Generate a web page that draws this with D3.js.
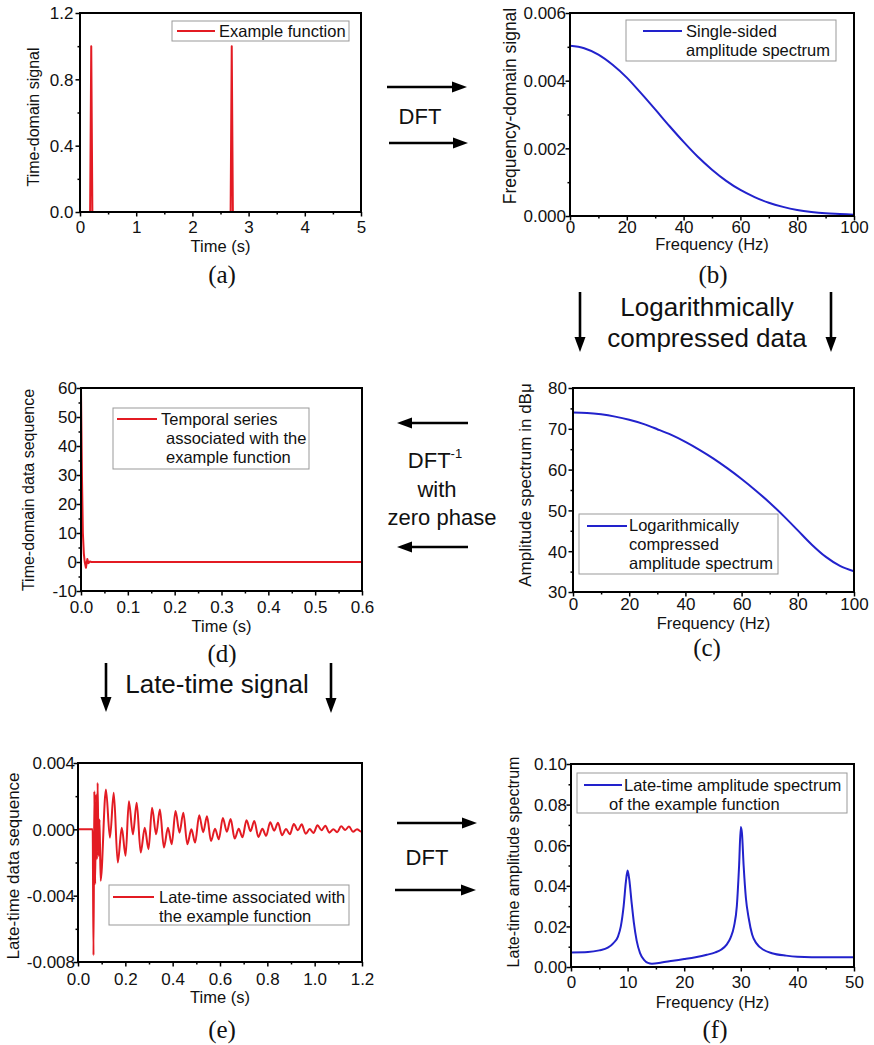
<!DOCTYPE html>
<html>
<head>
<meta charset="utf-8">
<script src="https://cdn.jsdelivr.net/npm/d3@7"></script>
<style>
body { margin: 0; background: #fff; }
svg { font-family: "Liberation Sans", Arial, sans-serif; }
</style>
</head>
<body>
<script>

// (a) example function
var aTime   = [0, 0.18, 0.2, 0.22, 2.68, 2.7, 2.72, 5];
var aSignal = [0, 0, 1.0, 0, 0, 1.0, 0, 0];
var aXTicks = [0, 1, 2, 3, 4, 5],          aXMinor = [0.5, 1.5, 2.5, 3.5, 4.5];
var aYTicks = [0, 0.4, 0.8, 1.2],          aYMinor = [0.2, 0.6, 1.0];

// (b) single-sided amplitude spectrum
var bFreq = [0, 5, 10, 15, 20, 25, 30, 35, 40, 45, 50, 55, 60, 65, 70, 75, 80, 85, 90, 95, 100];
var bAmp  = [0.00503, 0.00496, 0.00477, 0.00447, 0.00409, 0.00363, 0.00315, 0.00266, 0.00219,
             0.00175, 0.00137, 0.00104, 0.00077, 0.00056, 0.00039, 0.00027, 0.00018, 0.00012,
             0.00008, 0.00006, 0.00004];
var bXTicks = [0, 20, 40, 60, 80, 100],    bXMinor = [10, 30, 50, 70, 90];
var bYTicks = [0, 0.002, 0.004, 0.006],    bYMinor = [0.001, 0.003, 0.005];

// (c) logarithmically compressed spectrum (dB micro)
var cFreq  = [0, 5, 10, 15, 20, 25, 30, 35, 40, 45, 50, 55, 60, 65, 70, 75, 80, 85, 90, 95, 100];
var cLevel = [74.0, 73.9, 73.55, 72.98, 72.2, 71.2, 69.9, 68.5, 66.8, 64.85, 62.7, 60.3, 57.7,
              54.9, 51.9, 48.6, 45.1, 41.6, 38.6, 36.4, 35.1];
var cYTicks = [30, 40, 50, 60, 70, 80],    cYMinor = [35, 45, 55, 65, 75];

// (d) temporal series
var dTime = [0, 0.002, 0.004, 0.006, 0.008, 0.0105, 0.0135, 0.016, 0.019, 0.022, 0.6];
var dSeq  = [59.5, 30, 10, 3, 0, -2, 1, -0.4, 0.2, 0, 0];
var dXTicks = [0, 0.1, 0.2, 0.3, 0.4, 0.5, 0.6], dXMinor = [0.05, 0.15, 0.25, 0.35, 0.45, 0.55];
var dYTicks = [-10, 0, 10, 20, 30, 40, 50, 60],  dYMinor = [-5, 5, 15, 25, 35, 45, 55];

// (e) late-time signal (turning points)
var eTime = [0, 0.062, 0.0655, 0.069, 0.0725, 0.0765, 0.080, 0.083, 0.087, 0.091, 0.0955,
             0.118, 0.135, 0.151, 0.168, 0.185, 0.201,
             0.215, 0.232, 0.248, 0.265, 0.282, 0.298,
             0.313, 0.330, 0.346, 0.363, 0.380, 0.396,
             0.412, 0.429, 0.445, 0.462, 0.479, 0.495,
             0.512, 0.529, 0.545, 0.562, 0.579, 0.595,
             0.612, 0.629, 0.645, 0.662, 0.679, 0.695,
             0.712, 0.729, 0.745, 0.762, 0.779, 0.795,
             0.812, 0.829, 0.845, 0.862, 0.879, 0.895,
             0.912, 0.929, 0.945, 0.962, 0.979, 0.995,
             1.012, 1.029, 1.045, 1.062, 1.079, 1.095,
             1.112, 1.129, 1.145, 1.162, 1.179, 1.195, 1.2];
var eSeq  = [0, 0, -0.0076, 0.0023, -0.0033, 0.0021, -0.0018, 0.0028, -0.0016, 0.0006, -0.0031,
             0.0024, -0.0005, 0.0022, -0.0020, 0.0001, -0.0016,
             0.0017, -0.0003, 0.0016, -0.0014, 0.0001, -0.0012,
             0.0013, -0.0003, 0.0012, -0.0011, 0.0001, -0.0009,
             0.0011, -0.0002, 0.0010, -0.0009, 0.0000, -0.0008,
             0.00085, -0.00017, 0.00079, -0.00071, 0.00004, -0.0006,
             0.00068, -0.00014, 0.00063, -0.00056, 0.00003, -0.00048,
             0.00055, -0.00011, 0.00051, -0.00046, 0.00003, -0.00039,
             0.00042, -0.00008, 0.00039, -0.00035, 0.00002, -0.0003,
             0.00032, -0.00006, 0.0003, -0.00027, 0.00002, -0.00022,
             0.00024, -0.00005, 0.00022, -0.0002, 0.00001, -0.00017,
             0.00018, -0.00004, 0.00017, -0.00015, 0.00001, -0.00013, -0.0001];
var eXTicks = [0, 0.2, 0.4, 0.6, 0.8, 1.0, 1.2], eXMinor = [0.1, 0.3, 0.5, 0.7, 0.9, 1.1];
var eYTicks = [-0.008, -0.004, 0, 0.004],       eYMinor = [-0.006, -0.002, 0.002];

// (f) late-time amplitude spectrum
var fFreq = [0, 3, 5, 6.5, 7.5, 8.3, 8.8, 9.3, 9.7, 10, 10.3, 10.7, 11.1, 11.6, 12.2, 12.9, 13.6,
             14.3, 16, 18, 20, 22, 24, 25.5, 26.5, 27.5, 28.2, 28.8, 29.3, 29.7, 30, 30.2, 30.5,
             30.9, 31.4, 32, 32.8, 34, 35.5, 38, 40, 45, 50];
var fAmp  = [0.0072, 0.0074, 0.0082, 0.0095, 0.0118, 0.015, 0.02, 0.03, 0.042, 0.0475, 0.043,
             0.032, 0.022, 0.013, 0.0068, 0.0035, 0.002, 0.0016, 0.0022, 0.0031, 0.0039, 0.0048,
             0.006, 0.0072, 0.0085, 0.011, 0.0145, 0.02, 0.03, 0.05, 0.069, 0.066, 0.05, 0.034,
             0.024, 0.016, 0.0115, 0.0085, 0.0068, 0.0056, 0.0051, 0.0048, 0.0048];
var fXTicks = [0, 10, 20, 30, 40, 50],             fXMinor = [5, 15, 25, 35, 45];
var fYTicks = [0, 0.02, 0.04, 0.06, 0.08, 0.10],   fYMinor = [0.01, 0.03, 0.05, 0.07, 0.09];

var RED = "#e31b23", BLUE = "#2222cc";
var TICK_FONT = "17px", LEGEND_FONT = "16.5px";

var svg = d3.select("body").append("svg")
    .attr("width", 874)
    .attr("height", 1045);

function fmt(spec) {
    var f = d3.format(spec);
    return function(d) { return f(d).replace("\u2212", "-"); };
}

var clipId = 0;

function drawPanel(p) {
    var x = d3.scaleLinear().domain(p.xDomain).range([p.left, p.right]);
    var y = d3.scaleLinear().domain(p.yDomain).range([p.bottom, p.top]);
    var g = svg.append("g");

    // minor ticks (outward)
    g.append("g").attr("transform", "translate(0," + p.bottom + ")")
        .call(d3.axisBottom(x).tickValues(p.xMinor).tickSize(2.5).tickFormat(""));
    g.append("g").attr("transform", "translate(" + p.left + ",0)")
        .call(d3.axisLeft(y).tickValues(p.yMinor).tickSize(2.5).tickFormat(""));

    // major ticks
    var xa = g.append("g").attr("transform", "translate(0," + p.bottom + ")")
        .call(d3.axisBottom(x).tickValues(p.xTicks).tickSize(4.5).tickFormat(p.xFmt));
    xa.selectAll("text").attr("y", p.xLabelY).attr("dy", 0)
        .style("font-size", TICK_FONT).attr("fill", "#111");
    var ya = g.append("g").attr("transform", "translate(" + p.left + ",0)")
        .call(d3.axisLeft(y).tickValues(p.yTicks).tickSize(4.5).tickFormat(p.yFmt));
    ya.selectAll("text").attr("x", -p.yLabelGap).attr("dy", "0.35em")
        .style("font-size", TICK_FONT).attr("fill", "#111");

    g.selectAll(".domain").remove();
    g.selectAll(".tick line").attr("stroke", "#000").attr("stroke-width", 1.5);

    // curve
    clipId += 1;
    svg.append("clipPath").attr("id", "clip" + clipId)
        .append("rect")
        .attr("x", p.left).attr("y", p.top - 1)
        .attr("width", p.right - p.left).attr("height", p.bottom - p.top + 2);

    var line = d3.line()
        .x(function(d) { return x(d[0]); })
        .y(function(d) { return y(d[1]); })
        .curve(p.curve || d3.curveLinear);

    g.append("path")
        .datum(d3.zip(p.xs, p.ys))
        .attr("clip-path", "url(#clip" + clipId + ")")
        .attr("fill", "none")
        .attr("stroke", p.color)
        .attr("stroke-width", 2)
        .attr("stroke-linejoin", "round")
        .attr("d", line);

    // frame
    g.append("rect")
        .attr("x", p.left).attr("y", p.top)
        .attr("width", p.right - p.left).attr("height", p.bottom - p.top)
        .attr("fill", "none").attr("stroke", "#000").attr("stroke-width", 2);

    // legend
    var lg = p.legend;
    g.append("rect")
        .attr("x", lg.x).attr("y", lg.y).attr("width", lg.w).attr("height", lg.h)
        .attr("fill", "#fff").attr("stroke", "#999").attr("stroke-width", 1);
    g.append("line")
        .attr("x1", lg.x1).attr("x2", lg.x2).attr("y1", lg.ly).attr("y2", lg.ly)
        .attr("stroke", p.color).attr("stroke-width", 2);
    lg.lines.forEach(function(t) {
        g.append("text").attr("x", t[1]).attr("y", t[2])
            .style("font-size", LEGEND_FONT).attr("fill", "#111").text(t[0]);
    });

    // axis titles
    g.append("text")
        .attr("x", (p.left + p.right) / 2).attr("y", p.xTitleY)
        .attr("text-anchor", "middle").style("font-size", "16.5px").attr("fill", "#111")
        .text(p.xTitle);
    g.append("text")
        .attr("transform", "translate(" + p.yTitleX + "," + p.yTitleC + ") rotate(-90)")
        .attr("dy", "0.35em")
        .attr("text-anchor", "middle").style("font-size", p.yTitleSize + "px").attr("fill", "#111")
        .text(p.yTitle);

    // panel label
    g.append("text")
        .attr("x", p.label[1]).attr("y", p.label[2])
        .attr("text-anchor", "middle")
        .style("font-family", "'Liberation Serif', 'Times New Roman', serif")
        .style("font-size", "25px").attr("fill", "#111")
        .text(p.label[0]);
}

function arrow(x1, y1, x2, y2) {
    var dx = x2 - x1, dy = y2 - y1;
    var len = Math.sqrt(dx * dx + dy * dy), ux = dx / len, uy = dy / len;
    var hl = 15, hw = 5.5;
    var bx = x2 - ux * hl, by = y2 - uy * hl;
    svg.append("line")
        .attr("x1", x1).attr("y1", y1).attr("x2", bx + ux * 2).attr("y2", by + uy * 2)
        .attr("stroke", "#000").attr("stroke-width", 2.6);
    svg.append("path")
        .attr("d", "M" + x2 + "," + y2 + "L" + (bx - uy * hw) + "," + (by + ux * hw) +
                   "L" + (bx + uy * hw) + "," + (by - ux * hw) + "Z")
        .attr("fill", "#000");
}

function label(txt, x, y, size) {
    return svg.append("text").attr("x", x).attr("y", y)
        .attr("text-anchor", "middle").style("font-size", size + "px").attr("fill", "#111")
        .text(txt);
}

drawPanel({
    left: 80, top: 13, right: 361, bottom: 212,
    xDomain: [0, 5], yDomain: [0, 1.2],
    xTicks: aXTicks, xMinor: aXMinor, yTicks: aYTicks, yMinor: aYMinor,
    xFmt: fmt("d"), yFmt: fmt(".1f"), xLabelY: 21, yLabelGap: 6.5,
    xs: aTime, ys: aSignal, color: RED,
    xTitle: "Time (s)", xTitleY: 252,
    yTitle: "Time-domain signal", yTitleX: 33, yTitleC: 117, yTitleSize: 16,
    legend: { x: 172, y: 21, w: 177, h: 20, x1: 177, x2: 215, ly: 31,
              lines: [["Example function", 219, 37]] },
    label: ["(a)", 222, 283]
});

drawPanel({
    left: 570, top: 13, right: 854, bottom: 216,
    xDomain: [0, 100], yDomain: [0, 0.006],
    xTicks: bXTicks, xMinor: bXMinor, yTicks: bYTicks, yMinor: bYMinor,
    xFmt: fmt("d"), yFmt: fmt(".3f"), xLabelY: 17, yLabelGap: 4,
    xs: bFreq, ys: bAmp, color: BLUE, curve: d3.curveMonotoneX,
    xTitle: "Frequency (Hz)", xTitleY: 250,
    yTitle: "Frequency-domain signal", yTitleX: 510, yTitleC: 106, yTitleSize: 17.5,
    legend: { x: 626, y: 20, w: 210, h: 41, x1: 643, x2: 682, ly: 31,
              lines: [["Single-sided", 686, 37], ["amplitude spectrum", 686, 56]] },
    label: ["(b)", 713, 283]
});

drawPanel({
    left: 573, top: 388, right: 854, bottom: 592,
    xDomain: [0, 100], yDomain: [30, 80],
    xTicks: bXTicks, xMinor: bXMinor, yTicks: cYTicks, yMinor: cYMinor,
    xFmt: fmt("d"), yFmt: fmt("d"), xLabelY: 18, yLabelGap: 6,
    xs: cFreq, ys: cLevel, color: BLUE, curve: d3.curveMonotoneX,
    xTitle: "Frequency (Hz)", xTitleY: 629,
    yTitle: "Amplitude spectrum in dB\u03bc", yTitleX: 525, yTitleC: 485, yTitleSize: 17,
    legend: { x: 579, y: 514, w: 199, h: 60, x1: 587, x2: 627, ly: 526,
              lines: [["Logarithmically", 629, 531], ["compressed", 629, 550],
                      ["amplitude spectrum", 629, 568.5]] },
    label: ["(c)", 707, 656]
});

drawPanel({
    left: 81, top: 388, right: 362, bottom: 591,
    xDomain: [0, 0.6], yDomain: [-10, 60],
    xTicks: dXTicks, xMinor: dXMinor, yTicks: dYTicks, yMinor: dYMinor,
    xFmt: fmt(".1f"), yFmt: fmt("d"), xLabelY: 22, yLabelGap: 4,
    xs: dTime, ys: dSeq, color: RED,
    xTitle: "Time (s)", xTitleY: 632,
    yTitle: "Time-domain data sequence", yTitleX: 28, yTitleC: 490, yTitleSize: 16,
    legend: { x: 113, y: 408, w: 196, h: 61, x1: 117, x2: 157, ly: 419,
              lines: [["Temporal series", 161, 425], ["associated with the", 166, 444],
                      ["example function", 166, 463]] },
    label: ["(d)", 222, 662]
});

drawPanel({
    left: 78, top: 763, right: 362, bottom: 962,
    xDomain: [0, 1.2], yDomain: [-0.008, 0.004],
    xTicks: eXTicks, xMinor: eXMinor, yTicks: eYTicks, yMinor: eYMinor,
    xFmt: fmt(".1f"), yFmt: fmt(".3f"), xLabelY: 23, yLabelGap: 3,
    xs: eTime, ys: eSeq, color: RED, curve: d3.curveMonotoneX,
    xTitle: "Time (s)", xTitleY: 1003,
    yTitle: "Late-time data sequence", yTitleX: 13, yTitleC: 866, yTitleSize: 17,
    legend: { x: 109, y: 885, w: 240, h: 40, x1: 113, x2: 154, ly: 897,
              lines: [["Late-time associated with", 159, 903], ["the example function", 159, 922]] },
    label: ["(e)", 222, 1038]
});

drawPanel({
    left: 571, top: 764, right: 854, bottom: 967,
    xDomain: [0, 50], yDomain: [0, 0.10],
    xTicks: fXTicks, xMinor: fXMinor, yTicks: fYTicks, yMinor: fYMinor,
    xFmt: fmt("d"), yFmt: fmt(".2f"), xLabelY: 21, yLabelGap: 4,
    xs: fFreq, ys: fAmp, color: BLUE, curve: d3.curveMonotoneX,
    xTitle: "Frequency (Hz)", xTitleY: 1008,
    yTitle: "Late-time amplitude spectrum", yTitleX: 513, yTitleC: 862, yTitleSize: 16,
    legend: { x: 577, y: 773, w: 270, h: 40, x1: 584, x2: 622, ly: 785,
              lines: [["Late-time amplitude spectrum", 624, 791], ["of the example function", 609, 810]] },
    label: ["(f)", 715, 1038]
});

// transitions between panels
arrow(387, 87, 467, 87);
arrow(389, 143, 468, 143);
label("DFT", 420, 124, 22);

arrow(580, 292, 580, 352);
arrow(831, 292, 831, 352);
label("Logarithmically", 707, 316, 26);
label("compressed data", 707, 347, 26);

arrow(468, 423, 397, 423);
arrow(468, 547, 397, 547);
var inv = label("DFT", 435, 468, 22);
inv.append("tspan").attr("dy", -10).style("font-size", "13px").text("-1");
label("with", 437, 497, 22);
label("zero phase", 442, 525, 22);

arrow(106, 663, 106, 712);
arrow(331, 663, 331, 713);
label("Late-time signal", 217, 693, 26);

arrow(397, 823, 477, 823);
arrow(395, 890, 476, 890);
label("DFT", 427, 865, 22);

</script>
</body>
</html>
